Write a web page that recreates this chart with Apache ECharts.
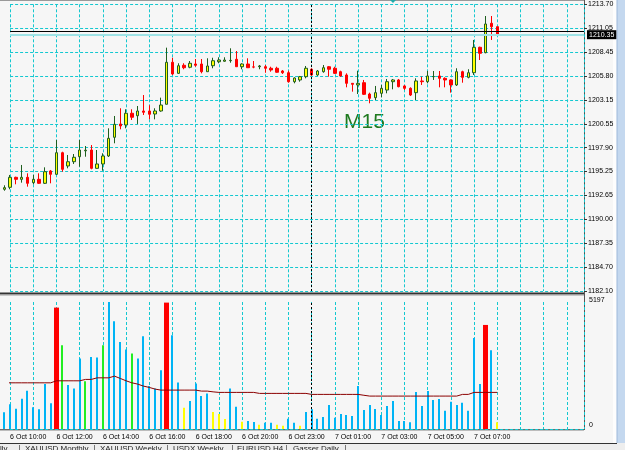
<!DOCTYPE html>
<html>
<head>
<meta charset="utf-8">
<script src="https://cdn.jsdelivr.net/npm/echarts@6/dist/echarts.min.js"></script>
<style>
html, body { margin: 0; padding: 0; background: #f6f6f6; }
#chart { width: 625px; height: 450px; }
</style>
</head>
<body>
<div id="chart"></div>
<script>
// XAUUSD M15, oldest bar first: [open, close, low, high]
var candles = [
  [1193.31,1193.49,1193.15,1193.75],[1193.53,1194.63,1193.31,1194.89],[1194.63,1194.41,1193.86,1194.70],
  [1194.41,1194.63,1194.04,1195.99],[1194.63,1193.97,1193.60,1195.07],[1194.04,1194.41,1193.86,1194.89],
  [1194.41,1193.97,1193.90,1195.07],[1193.97,1195.25,1193.90,1195.73],[1195.33,1194.96,1193.97,1195.44],
  [1194.96,1197.34,1194.90,1198.74],[1197.34,1195.51,1195.25,1197.45],[1195.88,1196.35,1195.62,1197.09],
  [1196.35,1196.84,1196.10,1197.20],[1196.90,1197.64,1195.80,1198.74],[1197.55,1197.62,1196.90,1198.08],
  [1197.64,1195.62,1195.51,1198.19],[1195.62,1196.10,1195.60,1197.64],[1196.10,1196.98,1195.36,1197.28],
  [1196.98,1198.93,1196.87,1200.03],[1199.04,1200.47,1198.38,1201.39],[1200.51,1200.29,1199.92,1202.24],
  [1200.40,1201.69,1200.03,1202.13],[1201.69,1201.25,1200.95,1202.13],[1201.42,1201.94,1200.51,1202.49],
  [1201.94,1201.80,1201.50,1203.70],[1201.94,1201.58,1201.02,1202.57],[1201.61,1201.94,1201.02,1202.24],
  [1201.94,1202.60,1201.86,1203.41],[1202.68,1207.31,1202.68,1208.92],[1207.31,1206.02,1205.91,1207.81],
  [1206.09,1206.93,1206.02,1207.20],[1206.98,1206.71,1206.54,1207.20],[1206.76,1207.20,1206.65,1207.45],
  [1207.12,1206.98,1206.82,1207.67],[1207.12,1206.27,1206.09,1207.67],[1206.27,1206.90,1206.27,1207.75],
  [1206.93,1207.48,1206.65,1207.81],[1207.37,1207.56,1207.20,1207.86],[1207.42,1207.56,1207.37,1207.86],
  [1207.48,1207.52,1207.26,1208.85],[1207.64,1206.82,1206.82,1208.55],[1206.82,1207.12,1206.54,1207.20],
  [1207.12,1206.71,1206.71,1207.75],[1206.80,1206.78,1206.65,1207.45],[1206.82,1206.90,1206.54,1207.01],
  [1206.82,1206.65,1206.16,1207.01],[1206.65,1206.46,1206.27,1206.82],[1206.65,1206.21,1206.16,1206.82],
  [1206.35,1206.16,1206.02,1206.46],[1206.16,1205.17,1205.06,1206.38],[1205.17,1205.58,1204.99,1205.65],
  [1205.36,1205.72,1205.17,1205.80],[1205.72,1206.65,1205.54,1206.90],[1206.54,1205.91,1205.80,1206.65],
  [1205.91,1206.35,1205.80,1206.46],[1206.27,1206.71,1206.16,1207.01],[1206.82,1206.54,1205.72,1206.90],
  [1206.65,1206.09,1206.02,1206.82],[1206.27,1205.80,1205.72,1206.38],[1205.91,1204.99,1204.55,1206.09],
  [1204.99,1204.88,1204.07,1204.99],[1204.81,1204.99,1203.81,1206.38],[1205.06,1203.78,1203.70,1205.36],
  [1203.81,1203.34,1202.79,1203.96],[1203.41,1203.96,1203.15,1204.70],[1203.89,1204.44,1203.45,1204.81],
  [1204.25,1205.17,1203.89,1205.47],[1205.17,1205.36,1204.33,1205.47],[1205.36,1204.62,1204.55,1205.47],
  [1204.70,1204.44,1204.25,1204.81],[1204.44,1203.70,1203.59,1204.55],[1203.96,1205.25,1203.15,1205.54],
  [1205.25,1205.17,1204.81,1205.72],[1205.17,1205.80,1204.99,1206.35],[1205.72,1205.74,1205.36,1206.35],
  [1205.80,1205.54,1204.55,1206.35],[1205.54,1205.36,1204.55,1205.65],[1205.36,1204.81,1203.96,1205.43],
  [1204.81,1206.27,1204.70,1206.65],[1206.27,1205.65,1205.06,1206.38],[1205.65,1206.16,1205.54,1206.54],
  [1206.16,1208.96,1205.91,1209.77],[1208.96,1208.30,1207.56,1209.03],[1208.37,1211.53,1208.30,1212.41],
  [1211.61,1211.23,1209.77,1212.41],[1211.23,1210.35,1210.35,1211.23]
];

// tick volume per bar
var volumes = [
  682,1008,829,1237,1563,886,804,1837,1049,4968,
  3429,1796,1661,2886,1959,2951,2927,3429,5197,4409,
  3564,3253,3090,2886,3796,1755,1661,2408,5172,3837,
  1906,869,1143,1865,1347,1457,694,612,408,1661,
  910,298,327,286,176,257,257,176,135,420,
  257,135,694,804,420,490,980,461,612,571,
  531,1755,776,980,816,571,939,1143,327,327,
  273,1510,939,1551,1184,1225,747,1114,980,1074,
  747,3727,1837,4258,3225,273
];
// volume bar kind: b normal, r climax, g green, y low
var volKinds = ('bbbbbbbbbr' + 'gbbbgbbgbb' + 'bbgbbbbbrb' + 'bybbbbyyyb' +
                'bybbybbyyb' + 'bybbbbbbbb' + 'bbbbbbbbbb' + 'bbbbbbbbbb' + 'bbbrby').split('');

// volume moving average
var volMa = [
  1890,1890,1890,1890,1890,1890,1890,1890,1890,1972,
  1972,1972,1972,1972,2029,2029,2094,2094,2094,2163,
  2069,1972,1890,1837,1755,1701,1633,1592,1592,1592,
  1592,1592,1592,1592,1551,1551,1520,1498,1498,1498,
  1498,1498,1498,1498,1457,1457,1457,1457,1457,1457,
  1457,1457,1457,1416,1416,1416,1416,1416,1416,1416,
  1416,1416,1380,1347,1347,1347,1347,1347,1347,1347,
  1347,1347,1347,1347,1347,1347,1347,1347,1347,1416,
  1416,1498,1498,1498,1498,1498
];

var priceLabels = ['1182.10','1184.70','1187.35','1190.00','1192.65','1195.25','1197.90',
                   '1200.55','1203.15','1205.80','1208.45','1211.05','1213.70'];
var timeLabels = ['6 Oct 10:00','6 Oct 12:00','6 Oct 14:00','6 Oct 16:00','6 Oct 18:00','6 Oct 20:00',
                  '6 Oct 23:00','7 Oct 01:00','7 Oct 03:00','7 Oct 05:00','7 Oct 07:00'];
var bidPrice = 1210.35;
var askPrice = 1210.70;
var daySepBar = 53;   // 7 Oct 00:00

var GRID = '#14c8d0';
var FONT = 'Liberation Sans';
var X0 = 3;            // x value of bar 0, so grid lines land on multiples of 4
var XMIN = 4, XMAX = 102.95;
var LEFT = 10.1, WIDTH = 573.9;

var volColors = { b: '#00b4f5', r: '#ff0000', g: '#22ee22', y: '#ffff00' };

function xAxis(gi, labels) {
  return {
    type: 'value', gridIndex: gi, min: XMIN, max: XMAX, interval: 4,
    axisLine: { show: false }, axisTick: { show: false },
    splitLine: { show: true, lineStyle: { color: GRID, type: [3, 2], width: 1 } },
    axisLabel: labels ? {
      show: true, align: 'left', margin: 5, fontSize: 7, fontFamily: FONT, color: '#000',
      formatter: function (v) {
        var k = (v - 4) / 8;
        return (k % 1 === 0 && timeLabels[k]) ? timeLabels[k] : '';
      }
    } : { show: false }
  };
}

var chart = echarts.init(document.getElementById('chart'));
chart.setOption({
  animation: false,
  backgroundColor: '#f6f6f6',
  grid: [
    { left: LEFT, width: WIDTH, top: 4.3, height: 286.7 },
    { left: LEFT, width: WIDTH, top: 302, height: 127 }
  ],
  xAxis: [xAxis(0, false), xAxis(1, true)],
  yAxis: [
    { type: 'value', gridIndex: 0, min: 1182.10, max: 1213.70, show: false },
    { type: 'value', gridIndex: 0, position: 'right', min: 0, max: 12, interval: 1,
      axisLine: { show: false },
      axisTick: { show: true, length: 3, lineStyle: { color: '#333' } },
      splitLine: { show: true, lineStyle: { color: GRID, type: [3, 2], width: 1 } },
      axisLabel: { margin: 4, fontSize: 7, fontFamily: FONT, color: '#000',
        formatter: function (v) { return priceLabels[v] || ''; } } },
    { type: 'value', gridIndex: 1, position: 'right', min: 0, max: 5197, interval: 5197,
      axisLine: { show: false },
      axisTick: { show: false },
      splitLine: { show: true, lineStyle: { color: [GRID, 'transparent'], type: [3, 2], width: 1 } },
      axisLabel: { margin: 5, fontSize: 7, fontFamily: FONT, color: '#000',
        formatter: function (v) { return v === 0 ? '{z|0}' : '{m|' + v + '}'; },
        rich: { z: { fontSize: 7, fontFamily: FONT, padding: [0, 0, 8, 0] },
                m: { fontSize: 7, fontFamily: FONT, padding: [0, 0, 3, 0] } } } }
  ],
  series: [
    {
      type: 'candlestick', xAxisIndex: 0, yAxisIndex: 0,
      barWidth: 3, clip: false,
      encode: { x: 0, y: [1, 2, 3, 4] },
      data: candles.map(function (c, i) { return [i + X0, c[0], c[1], c[2], c[3]]; }),
      itemStyle: { color: '#ffff00', color0: '#ff0000', borderColor: '#1f5f1f', borderColor0: '#ff0000', borderWidth: 1 },
      markLine: {
        silent: true, symbol: ['none', 'none'], animation: false,
        data: [
          { xAxis: daySepBar + X0, lineStyle: { color: '#000', type: [2, 2], width: 1 }, label: { show: false } },
          { yAxis: askPrice, lineStyle: { color: '#000', type: 'solid', width: 1 }, label: { show: false } },
          { yAxis: bidPrice, lineStyle: { color: '#9fe3e6', type: 'solid', width: 2 },
            label: { show: true, position: 'end', distance: 3, formatter: bidPrice.toFixed(2),
                     color: '#fff', backgroundColor: '#000', fontSize: 7, fontFamily: FONT, padding: [1, 2] } }
        ]
      }
    },
    {
      type: 'custom', xAxisIndex: 1, yAxisIndex: 2, clip: false,
      encode: { x: 0, y: 1 },
      data: volumes.map(function (v, i) { return [i + X0, v]; }),
      renderItem: function (params, api) {
        var kind = volKinds[params.dataIndex];
        var top = api.coord([api.value(0), api.value(1)]);
        var base = api.coord([api.value(0), 0]);
        var w = kind === 'r' ? 5 : 2;
        return { type: 'rect',
          shape: { x: Math.round(top[0] - w / 2), y: top[1], width: w, height: base[1] - top[1] },
          style: { fill: volColors[kind] } };
      }
    },
    {
      type: 'line', xAxisIndex: 1, yAxisIndex: 2, clip: false,
      data: volMa.map(function (v, i) { return [i + X0, v]; }),
      symbol: 'none', lineStyle: { color: '#8b0000', width: 1 },
      markLine: {
        silent: true, symbol: ['none', 'none'], animation: false,
        data: [{ xAxis: daySepBar + X0, lineStyle: { color: '#000', type: [2, 2], width: 1 }, label: { show: false } }]
      }
    }
  ],
  graphic: [
    // frame
    { type: 'line', shape: { x1: 0, y1: 0.5, x2: 584, y2: 0.5 }, style: { stroke: '#999', lineWidth: 1 } },
    { type: 'line', shape: { x1: 584.5, y1: 0, x2: 584.5, y2: 430 }, style: { stroke: '#555', lineWidth: 1 } },
    { type: 'rect', shape: { x: 0, y: 292.5, width: 584, height: 1.6 }, style: { fill: '#333' } },
    { type: 'rect', shape: { x: 0, y: 294.1, width: 584, height: 1.5 }, style: { fill: '#9a9a9a' } },
    { type: 'line', shape: { x1: 0, y1: 429.8, x2: 584, y2: 429.8 }, style: { stroke: '#333', lineWidth: 1 } },
    { type: 'polygon', shape: { points: [[390, 0], [396, 0], [393, 3]] }, style: { fill: '#22aaaa' } },
    // M15 label
    { type: 'text', left: 344, top: 112, style: { text: 'M15', fill: '#1f7a1f', font: '21px "Liberation Sans"' } },
    // right scroll strip
    { type: 'rect', shape: { x: 613, y: 0, width: 4, height: 443 }, style: { fill: '#fdfdfd' } },
    { type: 'rect', shape: { x: 617, y: 0, width: 8, height: 443 }, style: { fill: '#c4d8ef' } },
    { type: 'line', shape: { x1: 617, y1: 0, x2: 617, y2: 443 }, style: { stroke: '#9db8da', lineWidth: 1 } },
    // tab bar
    { type: 'rect', shape: { x: 0, y: 443, width: 625, height: 7 }, style: { fill: '#eeeeee' } },
    { type: 'line', shape: { x1: 0, y1: 443.5, x2: 617, y2: 443.5 }, style: { stroke: '#333', lineWidth: 1 } },
    { type: 'text', left: 0, top: 445, style: { text: 'lly', fill: '#222', font: '8px "Liberation Sans"' } },
    { type: 'text', left: 25, top: 445, style: { text: 'XAUUSD,Monthly', fill: '#222', font: '8px "Liberation Sans"' } },
    { type: 'text', left: 100, top: 445, style: { text: 'XAUUSD,Weekly', fill: '#222', font: '8px "Liberation Sans"' } },
    { type: 'text', left: 173, top: 445, style: { text: 'USDX,Weekly', fill: '#222', font: '8px "Liberation Sans"' } },
    { type: 'text', left: 237, top: 445, style: { text: 'EURUSD,H4', fill: '#222', font: '8px "Liberation Sans"' } },
    { type: 'text', left: 293, top: 445, style: { text: 'Gasser Daily', fill: '#222', font: '8px "Liberation Sans"' } },
    { type: 'line', shape: { x1: 19.5, y1: 445, x2: 19.5, y2: 450 }, style: { stroke: '#777' } },
    { type: 'line', shape: { x1: 94.5, y1: 445, x2: 94.5, y2: 450 }, style: { stroke: '#777' } },
    { type: 'line', shape: { x1: 167.5, y1: 445, x2: 167.5, y2: 450 }, style: { stroke: '#777' } },
    { type: 'line', shape: { x1: 232.5, y1: 445, x2: 232.5, y2: 450 }, style: { stroke: '#777' } },
    { type: 'line', shape: { x1: 286.5, y1: 445, x2: 286.5, y2: 450 }, style: { stroke: '#777' } },
    { type: 'line', shape: { x1: 345.5, y1: 445, x2: 345.5, y2: 450 }, style: { stroke: '#777' } }
  ]
});
</script>
</body>
</html>
